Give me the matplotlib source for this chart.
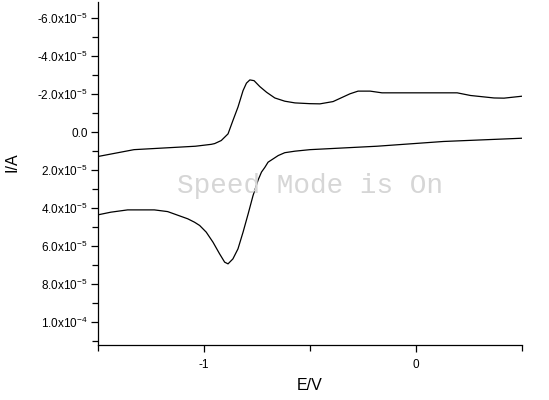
import matplotlib.pyplot as plt
from matplotlib.ticker import FixedLocator, FuncFormatter, MultipleLocator

plt.rcParams["font.family"] = ["Liberation Sans", "DejaVu Sans"]
plt.rcParams["mathtext.default"] = "regular"

# forward sweep (upper branch), E in V, I in units of 1e-5 A
e_fwd = [-1.50, -1.33, -1.04, -0.965, -0.949, -0.918, -0.886, -0.863, -0.839,
         -0.815, -0.799, -0.783, -0.763, -0.736, -0.704, -0.665, -0.618,
         -0.570, -0.50, -0.452, -0.39, -0.31, -0.272, -0.215, -0.159, 0.02,
         0.196, 0.259, 0.37, 0.417, 0.50]
i_fwd = [1.28, 0.92, 0.74, 0.64, 0.60, 0.44, 0.09, -0.61, -1.32,
         -2.19, -2.58, -2.75, -2.71, -2.40, -2.10, -1.80, -1.63,
         -1.54, -1.50, -1.49, -1.61, -2.02, -2.16, -2.16, -2.07, -2.07,
         -2.07, -1.93, -1.80, -1.79, -1.89]

# reverse sweep (lower branch)
e_rev = [0.50, 0.131, -0.183, -0.499, -0.570, -0.618, -0.649, -0.697, -0.712,
         -0.728, -0.744, -0.768, -0.791, -0.815, -0.839, -0.863, -0.886,
         -0.902, -0.926, -0.957, -0.989, -1.020, -1.044, -1.076, -1.171,
         -1.234, -1.360, -1.439, -1.50]
i_rev = [0.32, 0.49, 0.74, 0.92, 1.00, 1.08, 1.23, 1.58, 1.85,
         2.10, 2.52, 3.34, 4.30, 5.26, 6.14, 6.67, 6.93,
         6.84, 6.40, 5.79, 5.26, 4.91, 4.74, 4.56, 4.18,
         4.09, 4.09, 4.21, 4.35]

x_major = [-1, 0]
x_minor = [-1.5, -0.5, 0.5]
y_major = [-6e-5, -4e-5, -2e-5, 0, 2e-5, 4e-5, 6e-5, 8e-5, 1e-4]


def sci_label(v, pos):
    if abs(v) < 1e-12:
        return "0.0"
    s = f"{v:.1e}"
    mant, exp = s.split("e")
    return f"{mant}x10$^{{{int(exp)}}}$"


fig = plt.figure(figsize=(5.49, 4.0), dpi=100)
ax = fig.add_axes([0.1785, 0.1375, 0.7715, 0.8575])

ax.plot(e_fwd, [v * 1e-5 for v in i_fwd], color="black", linewidth=0.9, zorder=3)
ax.plot(e_rev, [v * 1e-5 for v in i_rev], color="black", linewidth=0.9, zorder=3)

ax.set_xlim(-1.5, 0.5)
ax.set_ylim(1.12e-4, -6.85e-5)

ax.xaxis.set_major_locator(FixedLocator(x_major))
ax.xaxis.set_minor_locator(FixedLocator(x_minor))
ax.xaxis.set_major_formatter(FuncFormatter(lambda v, p: f"{v:g}"))
ax.yaxis.set_major_locator(FixedLocator(y_major))
ax.yaxis.set_minor_locator(MultipleLocator(1e-5))
ax.yaxis.set_major_formatter(FuncFormatter(sci_label))

for side in ("top", "right"):
    ax.spines[side].set_visible(False)
for side in ("left", "bottom"):
    ax.spines[side].set_linewidth(0.9)

ax.tick_params(which="both", direction="out", width=0.9, labelsize=8.5)
ax.tick_params(which="major", length=5)
ax.tick_params(axis="y", which="major", pad=2.5)
ax.tick_params(axis="x", which="major", pad=5)
ax.tick_params(which="minor", length=4.5)

fig.text(310 / 549, 1 - 385 / 400, "E/V", ha="center", va="center", fontsize=11.5)
fig.text(12.5 / 549, 1 - 162 / 400, "I/A", ha="center", va="center",
         fontsize=11.5, rotation=90)

fig.text(310 / 549, 1 - 186 / 400, "Speed Mode is On", ha="center", va="center",
         fontsize=20, family="Liberation Mono", color="#d6d6d6", zorder=1)

fig.savefig("out.png", dpi=100)
